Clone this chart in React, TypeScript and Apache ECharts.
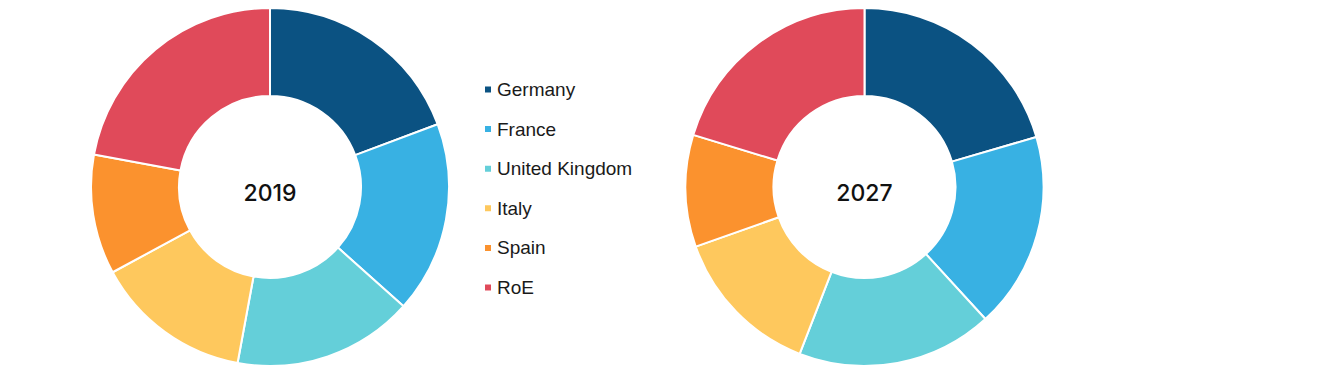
import React, { useEffect, useRef } from "react";
import * as echarts from "echarts";

const categories = ["Germany", "France", "United Kingdom", "Italy", "Spain", "RoE"];
const colors = ["#0B5282", "#38B1E3", "#64CFD9", "#FEC85D", "#FB922E", "#E04A5A"];
const values2019 = [19.3, 17.3, 16.3, 14.2, 10.8, 22.1];
const values2027 = [20.5, 17.7, 17.7, 13.7, 10.1, 20.3];
const yearLabels = ["2019", "2027"];

const FONT = "'Liberation Sans', Arial, sans-serif";

export default function App() {
  const ref = useRef<HTMLDivElement>(null);
  useEffect(() => {
    document.body.style.margin = "0";
    if (!ref.current) return;
    const chart = echarts.init(ref.current, null, { renderer: "svg" });
    const makeData = (vals: number[]) =>
      categories.map((name, i) => ({ name, value: vals[i], itemStyle: { color: colors[i] } }));
    const centers: [number, number][] = [
      [270, 187],
      [864.5, 187],
    ];
    const pieBase = {
      type: "pie" as const,
      radius: [91, 179],
      startAngle: 90,
      clockwise: true,
      label: { show: false },
      labelLine: { show: false },
      emphasis: { disabled: true },
      itemStyle: { borderColor: "#ffffff", borderWidth: 2 },
      silent: true,
    };
    chart.setOption({
      animation: false,
      color: colors,
      legend: {
        orient: "vertical",
        left: 483,
        top: 80,
        padding: 0,
        itemWidth: 8,
        itemHeight: 8,
        itemGap: 20.6,
        icon: "rect",
        data: categories,
        textStyle: { fontFamily: FONT, fontSize: 19, color: "#1a1a1a", lineHeight: 18 },
      },
      graphic: centers.map((c, i) => ({
        type: "text",
        x: c[0],
        y: c[1] + 6,
        style: {
          text: yearLabels[i],
          fontFamily: "Inter, Roboto, sans-serif",
          fontSize: 23,
          fontWeight: 500,
          fill: "#111",
          textAlign: "center",
          textVerticalAlign: "middle",
        },
      })),
      series: [
        { ...pieBase, name: yearLabels[0], center: centers[0], data: makeData(values2019) },
        { ...pieBase, name: yearLabels[1], center: centers[1], data: makeData(values2027) },
      ],
    });
    return () => chart.dispose();
  }, []);
  return <div ref={ref} style={{ width: 1344, height: 375 }} />;
}
